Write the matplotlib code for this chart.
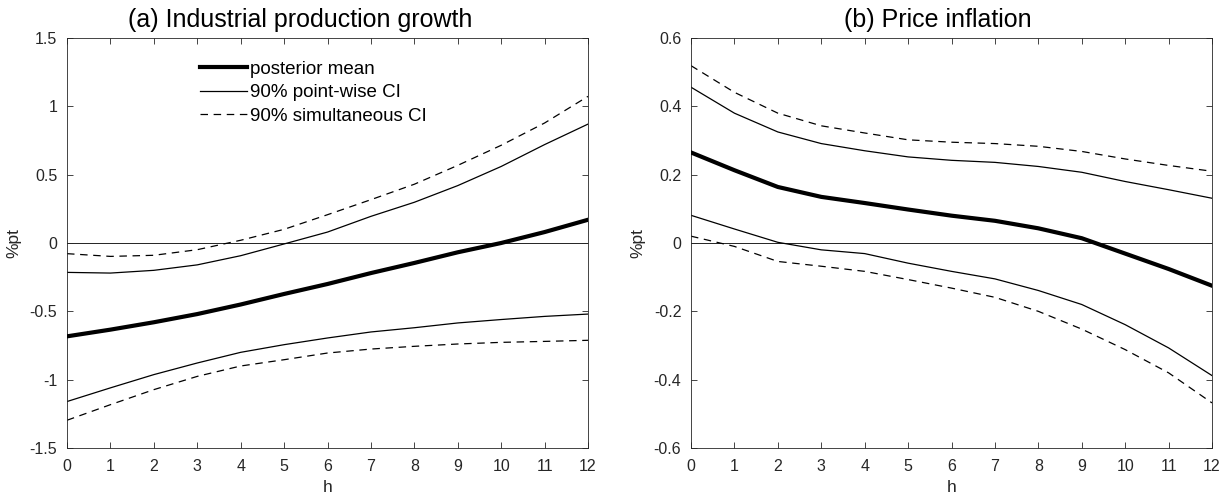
import matplotlib
matplotlib.use("Agg")
import matplotlib.pyplot as plt

plt.rcParams['font.family'] = ['Liberation Sans', 'DejaVu Sans']

h = list(range(13))

# Panel (a) Industrial production growth
ip_mean = [-0.683, -0.634, -0.58, -0.52, -0.45, -0.373, -0.30, -0.22, -0.146, -0.068, 0.0, 0.08, 0.17]
ip_pw_hi = [-0.215, -0.22, -0.20, -0.16, -0.093, -0.007, 0.08, 0.195, 0.298, 0.42, 0.56, 0.72, 0.87]
ip_pw_lo = [-1.16, -1.06, -0.963, -0.878, -0.80, -0.744, -0.695, -0.651, -0.62, -0.585, -0.56, -0.537, -0.52]
ip_sim_hi = [-0.078, -0.098, -0.09, -0.049, 0.02, 0.10, 0.207, 0.317, 0.43, 0.568, 0.715, 0.878, 1.073]
ip_sim_lo = [-1.297, -1.183, -1.073, -0.976, -0.90, -0.854, -0.805, -0.776, -0.756, -0.739, -0.727, -0.72, -0.712]

# Panel (b) Price inflation
pi_mean = [0.265, 0.213, 0.164, 0.135, 0.117, 0.098, 0.08, 0.065, 0.043, 0.014, -0.031, -0.076, -0.125]
pi_pw_hi = [0.456, 0.38, 0.325, 0.291, 0.27, 0.252, 0.242, 0.236, 0.224, 0.207, 0.18, 0.156, 0.131]
pi_pw_lo = [0.081, 0.041, 0.002, -0.02, -0.031, -0.059, -0.083, -0.105, -0.139, -0.18, -0.239, -0.307, -0.388]
pi_sim_hi = [0.519, 0.441, 0.38, 0.343, 0.322, 0.302, 0.295, 0.291, 0.283, 0.268, 0.246, 0.227, 0.21]
pi_sim_lo = [0.02, -0.01, -0.054, -0.068, -0.083, -0.107, -0.132, -0.159, -0.20, -0.252, -0.312, -0.38, -0.468]

titles = ['(a) Industrial production growth', '(b) Price inflation']
yticks_a = [-1.5, -1, -0.5, 0, 0.5, 1, 1.5]
yticks_b = [-0.6, -0.4, -0.2, 0, 0.2, 0.4, 0.6]

W, H = 1231, 498
fig = plt.figure(figsize=(W / 100, H / 100), dpi=100)
ax1 = fig.add_axes([67 / W, 1 - 448 / H, (588 - 67) / W, (448 - 38) / H])
ax2 = fig.add_axes([691 / W, 1 - 448 / H, (1212 - 691) / W, (448 - 38) / H])

tc = '#262626'
panels = [
    (ax1, ip_mean, ip_pw_hi, ip_pw_lo, ip_sim_hi, ip_sim_lo, yticks_a, titles[0], 0.447),
    (ax2, pi_mean, pi_pw_hi, pi_pw_lo, pi_sim_hi, pi_sim_lo, yticks_b, titles[1], 0.473),
]
for ax, m, ph, pl, sh, sl, yt, t, tx in panels:
    ax.axhline(0, color='black', lw=0.6, zorder=1)
    l1, = ax.plot(h, m, color='black', lw=3.0, label='posterior mean', zorder=3)
    l2, = ax.plot(h, ph, color='black', lw=0.9, label='90% point-wise CI', zorder=2)
    ax.plot(h, pl, color='black', lw=0.9, zorder=2)
    l3, = ax.plot(h, sh, color='black', lw=0.9, dashes=(6, 4.5), label='90% simultaneous CI', zorder=2)
    ax.plot(h, sl, color='black', lw=0.9, dashes=(6, 4.5), zorder=2)
    ax.set_xlim(0, 12)
    ax.set_ylim(yt[0], yt[-1])
    ax.set_xticks(h)
    ax.set_yticks(yt)
    ax.set_yticklabels(['%g' % v for v in yt])
    ax.tick_params(direction='in', top=True, right=True, labelsize=11.5, length=4,
                   width=0.6, colors=tc, labelcolor=tc)
    ax.tick_params(axis='x', pad=8)
    ax.tick_params(axis='y', pad=7)
    for s in ax.spines.values():
        s.set_linewidth(0.6)
        s.set_color(tc)
    ax.set_xlabel('h', fontsize=12.5, color=tc, labelpad=4)
    ax.set_ylabel('%pt', fontsize=12.5, color=tc, labelpad=6)
    ax.text(tx, 1.0 + 6 / 410, t, transform=ax.transAxes, ha='center', va='bottom',
            fontsize=18)

ax1.legend(handles=[l1, l2, l3], loc='upper left', bbox_to_anchor=(0.255, 0.945),
           frameon=False, fontsize=13.5, handlelength=2.5, handletextpad=0.2,
           labelspacing=0.35, borderaxespad=0, borderpad=0)

fig.savefig('out.png', dpi=100)
